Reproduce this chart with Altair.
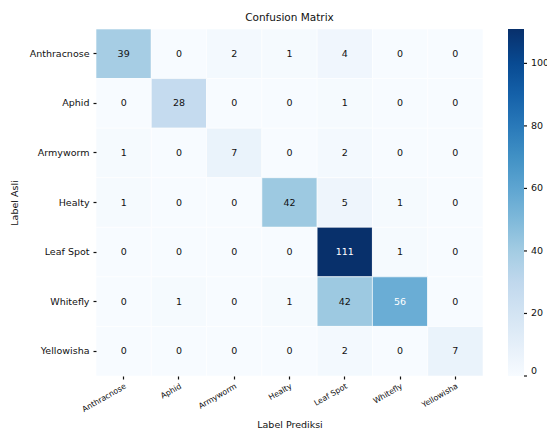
import altair as alt
import pandas as pd

# Class names (true labels on rows, predicted labels on columns)
classes = ["Anthracnose", "Aphid", "Armyworm", "Healty", "Leaf Spot", "Whitefly", "Yellowisha"]

# Confusion matrix counts, one list per true class
row_anthracnose = [39, 0, 2, 1, 4, 0, 0]
row_aphid = [0, 28, 0, 0, 1, 0, 0]
row_armyworm = [1, 0, 7, 0, 2, 0, 0]
row_healty = [1, 0, 0, 42, 5, 1, 0]
row_leafspot = [0, 0, 0, 0, 111, 1, 0]
row_whitefly = [0, 1, 0, 1, 42, 56, 0]
row_yellowisha = [0, 0, 0, 0, 2, 0, 7]

# Colour bar tick values
colorbar_ticks = [0, 20, 40, 60, 80, 100]

matrix = [row_anthracnose, row_aphid, row_armyworm, row_healty,
          row_leafspot, row_whitefly, row_yellowisha]

records = []
for i, actual in enumerate(classes):
    for j, predicted in enumerate(classes):
        records.append({"asli": actual, "prediksi": predicted, "jumlah": matrix[i][j]})
df = pd.DataFrame(records)
ticks_df = pd.DataFrame({"nilai": colorbar_ticks})

vmax = 111
# Blues colormap stops spread evenly over 0..vmax
blues = ["#f7fbff", "#deebf7", "#c6dbef", "#9ecae1", "#6baed6",
         "#4292c6", "#2171b5", "#08519c", "#08306b"]
stops = [vmax * k / (len(blues) - 1) for k in range(len(blues))]

FONT = "DejaVu Sans"
INK = "#111111"
PLOT_W, PLOT_H = 387, 347
BAR_X = 412          # left edge of the colour bar, in plot coordinates
BAR_W = 16

base = alt.Chart(df).encode(
    x=alt.X("prediksi:N", sort=classes, title="Label Prediksi",
            scale=alt.Scale(paddingInner=0, paddingOuter=0),
            axis=alt.Axis(labelAngle=-30, labelAlign="right", labelBaseline="top",
                          labelFontSize=7.8, labelPadding=3, tickSize=3, tickWidth=1.2,
                          tickColor=INK, domain=False, titleFontSize=9.5,
                          titleFontWeight="normal", titlePadding=6,
                          labelColor=INK, titleColor=INK)),
    y=alt.Y("asli:N", sort=classes, title="Label Asli",
            scale=alt.Scale(paddingInner=0, paddingOuter=0),
            axis=alt.Axis(labelFontSize=9.5, tickSize=3, tickWidth=1.2, tickColor=INK,
                          labelPadding=4, domain=False, titleFontSize=9.5,
                          titleFontWeight="normal", titlePadding=10,
                          labelColor=INK, titleColor=INK)),
)

cells = base.mark_rect(stroke="white", strokeWidth=0.6).encode(
    color=alt.Color("jumlah:Q",
                    scale=alt.Scale(domain=stops, range=blues, interpolate="rgb"),
                    legend=alt.Legend(title=None, orient="none", legendX=BAR_X, legendY=0,
                                      gradientLength=PLOT_H, gradientThickness=BAR_W,
                                      values=colorbar_ticks,
                                      labelFontSize=9.5, labelColor=INK,
                                      gradientStrokeWidth=0, labelOffset=7,
                                      direction="vertical"))
)

labels = base.mark_text(fontSize=9.5, font=FONT).encode(
    text="jumlah:Q",
    color=alt.condition(alt.datum.jumlah > 50, alt.value("white"), alt.value(INK)),
)

# Small tick marks on the right side of the colour bar
bar_ticks = alt.Chart(ticks_df).mark_rule(color=INK, strokeWidth=1.2).encode(
    y=alt.Y("nilai:Q", scale=alt.Scale(domain=[0, vmax], nice=False, zero=True), axis=None),
    x=alt.value(BAR_X + BAR_W),
    x2=alt.value(BAR_X + BAR_W + 3),
)

heatmap = alt.layer(cells, labels)

chart = alt.layer(heatmap, bar_ticks).resolve_scale(y="independent").properties(
    width=PLOT_W, height=PLOT_H,
    title=alt.TitleParams("Confusion Matrix", fontSize=10.5, fontWeight="normal",
                          font=FONT, color=INK, offset=5),
    autosize=alt.AutoSizeParams(type="none"),
    padding={"left": 96, "top": 29, "right": 64, "bottom": 54},
).configure(font=FONT).configure_view(stroke=None)

chart.save("out.html", embed_options={"renderer": "svg", "actions": False})
